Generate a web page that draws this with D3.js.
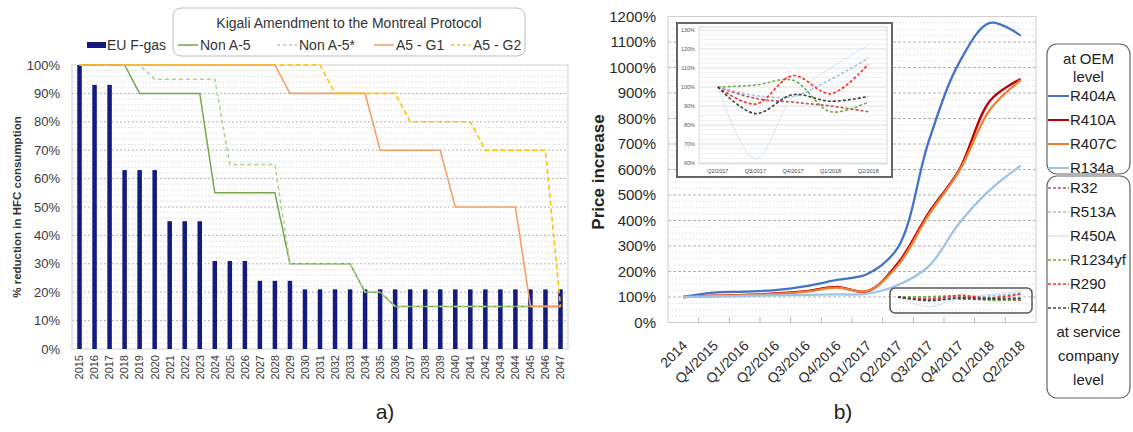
<!DOCTYPE html>
<html>
<head>
<meta charset="utf-8">
<script src="https://cdn.jsdelivr.net/npm/d3@7"></script>
<style>
  html, body { margin: 0; padding: 0; background: #fff; }
  svg { display: block; font-family: "Liberation Sans", Arial, sans-serif; }
</style>
</head>
<body>
<svg id="chart" width="1133" height="432"></svg>
<script>
// ---------- Panel a) HFC phase-down schedules (% of baseline) ----------
const years = ["2015","2016","2017","2018","2019","2020","2021","2022","2023","2024","2025",
  "2026","2027","2028","2029","2030","2031","2032","2033","2034","2035","2036","2037","2038",
  "2039","2040","2041","2042","2043","2044","2045","2046","2047"];
const euFgas    = [100,93,93,63,63,63,45,45,45,31,31,31,24,24,24,21,21,21,21,21,21,21,21,21,21,21,21,21,21,21,21,21,21];
const nonA5     = [100,100,100,100,90,90,90,90,90,55,55,55,55,55,30,30,30,30,30,20,20,15,15,15,15,15,15,15,15,15,15,15,15];
const nonA5Star = [100,100,100,100,100,95,95,95,95,95,65,65,65,65,30,30,30,30,30,20,20,15,15,15,15,15,15,15,15,15,15,15,15];
const a5G1      = [100,100,100,100,100,100,100,100,100,100,100,100,100,100,90,90,90,90,90,90,70,70,70,70,70,50,50,50,50,50,15,15,15];
const a5G2      = [100,100,100,100,100,100,100,100,100,100,100,100,100,100,100,100,100,90,90,90,90,90,80,80,80,80,80,70,70,70,70,70,15];
const reductionTicks = [0,10,20,30,40,50,60,70,80,90,100];

// ---------- Panel b) refrigerant price increase (% of 2014 level) ----------
const quarters = ["2014","Q4/2015","Q1/2016","Q2/2016","Q3/2016","Q4/2016","Q1/2017",
  "Q2/2017","Q3/2017","Q4/2017","Q1/2018","Q2/2018"];
const r404a = [100,117,121,127,143,167,190,295,710,1020,1175,1125];
const r410a = [100,105,108,114,123,140,122,233,430,600,870,955];
const r407c = [100,104,107,112,121,137,124,225,422,595,835,950];
const r134a = [100,102,104,106,108,110,113,147,220,390,520,615];
const priceTicks = [0,100,200,300,400,500,600,700,800,900,1000,1100,1200];

// service-company prices, Q2/2017 = 100%
const serviceQuarters = ["Q2/2017","Q3/2017","Q4/2017","Q1/2018","Q2/2018"];
const r32     = [100,94,92,90,87];
const r513a   = [100,95.5,95,104,115];
const r450a   = [100,62,95,110,122];
const r1234yf = [100,101,103.5,87,92];
const r290    = [100,91,106,96.5,112];
const r744    = [100,86,96,92.5,95];
const insetTicks = [60,70,80,90,100,110,120,130];

const svg = d3.select("#chart");
const TXT = "#333";

// =================== Panel a ===================
const A = { left: 72, right: 568, top: 65, bottom: 349 };
const xA = d3.scaleBand().domain(years).range([A.left, A.right]).paddingInner(0.7).paddingOuter(0.35);
const cA = y => xA(y) + xA.bandwidth() / 2;
const yA = d3.scaleLinear().domain([0, 100]).range([A.bottom, A.top]);

const gA = svg.append("g");
gA.selectAll("line.minor")
  .data(d3.range(2, 100, 2).filter(v => v % 10 !== 0))
  .join("line")
  .attr("x1", A.left).attr("x2", A.right)
  .attr("y1", d => yA(d)).attr("y2", d => yA(d))
  .attr("stroke", "#dcdcdc").attr("stroke-dasharray", "1.5,2");
gA.selectAll("line.major")
  .data(reductionTicks.filter(v => v > 0 && v < 100))
  .join("line")
  .attr("x1", A.left).attr("x2", A.right)
  .attr("y1", d => yA(d)).attr("y2", d => yA(d))
  .attr("stroke", "#b5b5b5").attr("stroke-dasharray", "2,2");
gA.append("rect")
  .attr("x", A.left).attr("y", A.top)
  .attr("width", A.right - A.left).attr("height", A.bottom - A.top)
  .attr("fill", "none").attr("stroke", "#cfcfcf");

// EU F-gas bars
gA.selectAll("rect.bar")
  .data(years)
  .join("rect")
  .attr("x", d => xA(d))
  .attr("y", (d, i) => yA(euFgas[i]))
  .attr("width", xA.bandwidth())
  .attr("height", (d, i) => yA(0) - yA(euFgas[i]))
  .attr("fill", "#141a7e");

// Kigali schedules
const lineA = d3.line().x((d, i) => cA(years[i])).y(d => yA(d));
const kigali = [
  { values: nonA5,     color: "#74a84e", dash: null,  w: 1.5 },
  { values: nonA5Star, color: "#a9d48c", dash: "4,3", w: 1.5 },
  { values: a5G1,      color: "#f4a067", dash: null,  w: 1.6 },
  { values: a5G2,      color: "#ffc000", dash: "5,3", w: 1.6 }
];
kigali.forEach(s => {
  gA.append("path")
    .attr("d", lineA(s.values))
    .attr("fill", "none")
    .attr("stroke", s.color)
    .attr("stroke-width", s.w)
    .attr("stroke-dasharray", s.dash);
});

// axes
const axYA = gA.append("g")
  .attr("transform", `translate(${A.left},0)`)
  .call(d3.axisLeft(yA).tickValues(reductionTicks).tickFormat(d => d + "%").tickSize(0).tickPadding(12));
axYA.select(".domain").remove();
axYA.selectAll("text").attr("font-size", 13).attr("fill", "#3a3a3a")
  .attr("font-family", "Liberation Sans, Arial, sans-serif");

const axXA = gA.append("g")
  .attr("transform", `translate(0,${A.bottom})`)
  .call(d3.axisBottom(xA).tickSize(0));
axXA.select(".domain").remove();
axXA.selectAll("text")
  .attr("font-size", 11).attr("fill", "#3a3a3a")
  .attr("font-family", "Liberation Sans, Arial, sans-serif")
  .attr("text-anchor", "end")
  .attr("transform", "rotate(-90)")
  .attr("x", -6).attr("y", 0).attr("dy", "0.35em");

gA.append("text")
  .attr("transform", `translate(21,${(A.top + A.bottom) / 2}) rotate(-90)`)
  .attr("text-anchor", "middle")
  .attr("font-size", 11.5).attr("font-weight", "bold").attr("fill", TXT)
  .text("% reduction in HFC consumption");

// legend a
const legA = svg.append("g");
legA.append("rect").attr("x", 87).attr("y", 42).attr("width", 19).attr("height", 6).attr("fill", "#141a7e");
legA.append("text").attr("x", 107).attr("y", 45).attr("dy", "0.35em")
  .attr("font-size", 14).attr("fill", TXT).text("EU F-gas");
legA.append("rect").attr("x", 173).attr("y", 8).attr("width", 352).attr("height", 48)
  .attr("rx", 8).attr("fill", "#fff").attr("stroke", "#bdbdbd");
legA.append("text").attr("x", 349).attr("y", 23).attr("dy", "0.35em").attr("text-anchor", "middle")
  .attr("font-size", 14).attr("fill", TXT).text("Kigali Amendment to the Montreal Protocol");
const legItemsA = [
  { label: "Non A-5",  x: 178, s: kigali[0] },
  { label: "Non A-5*", x: 277, s: kigali[1] },
  { label: "A5 - G1",  x: 374, s: kigali[2] },
  { label: "A5 - G2",  x: 451, s: kigali[3] }
];
legItemsA.forEach(it => {
  legA.append("line").attr("x1", it.x).attr("x2", it.x + 20).attr("y1", 45).attr("y2", 45)
    .attr("stroke", it.s.color).attr("stroke-width", 1.6).attr("stroke-dasharray", it.s.dash ? "3,3" : null);
  legA.append("text").attr("x", it.x + 22).attr("y", 45).attr("dy", "0.35em")
    .attr("font-size", 14).attr("fill", TXT).text(it.label);
});

svg.append("text").attr("x", 385).attr("y", 412).attr("dy", "0.35em").attr("text-anchor", "middle")
  .attr("font-size", 21).attr("fill", "#222").text("a)");

// =================== Panel b ===================
const B = { left: 668, right: 1036, top: 16.5, bottom: 322.5 };
const xB = d3.scaleBand().domain(quarters).range([B.left, B.right]);
const cB = q => xB(q) + xB.bandwidth() / 2;
const yB = d3.scaleLinear().domain([0, 1200]).range([B.bottom, B.top]);

const gB = svg.append("g");
gB.selectAll("line.minor")
  .data(d3.range(25, 1200, 25).filter(v => v % 100 !== 0))
  .join("line")
  .attr("x1", B.left).attr("x2", B.right)
  .attr("y1", d => yB(d)).attr("y2", d => yB(d))
  .attr("stroke", "#dedede").attr("stroke-dasharray", "1.5,2");
gB.selectAll("line.major")
  .data(priceTicks.filter(v => v > 0 && v < 1200))
  .join("line")
  .attr("x1", B.left).attr("x2", B.right)
  .attr("y1", d => yB(d)).attr("y2", d => yB(d))
  .attr("stroke", "#b0b0b0").attr("stroke-dasharray", "3,2");
gB.append("rect")
  .attr("x", B.left).attr("y", B.top)
  .attr("width", B.right - B.left).attr("height", B.bottom - B.top)
  .attr("fill", "none").attr("stroke", "#cfcfcf");
gB.selectAll("line.tick")
  .data(quarters.slice(1))
  .join("line")
  .attr("x1", d => xB(d)).attr("x2", d => xB(d))
  .attr("y1", B.bottom - 5).attr("y2", B.bottom)
  .attr("stroke", "#b5b5b5");

const axYB = gB.append("g")
  .attr("transform", `translate(${B.left},0)`)
  .call(d3.axisLeft(yB).tickValues(priceTicks).tickFormat(d => d + "%").tickSize(0).tickPadding(12));
axYB.select(".domain").remove();
axYB.selectAll("text").attr("font-size", 15).attr("fill", "#2a2a2a")
  .attr("font-family", "Liberation Sans, Arial, sans-serif");

const axXB = gB.append("g")
  .attr("transform", `translate(0,${B.bottom})`)
  .call(d3.axisBottom(xB).tickSize(0));
axXB.select(".domain").remove();
axXB.selectAll("text")
  .attr("font-size", 14).attr("fill", "#2a2a2a")
  .attr("font-family", "Liberation Sans, Arial, sans-serif")
  .attr("text-anchor", "end")
  .attr("x", 0).attr("y", 0).attr("dy", 0)
  .attr("transform", "translate(5,24) rotate(-45)");

gB.append("text")
  .attr("transform", `translate(604,172) rotate(-90)`)
  .attr("text-anchor", "middle")
  .attr("font-size", 17).attr("font-weight", "bold").attr("fill", "#222")
  .text("Price increase");

// OEM price curves
const lineB = d3.line().x((d, i) => cB(quarters[i])).y(d => yB(d)).curve(d3.curveCatmullRom.alpha(0.5));
const oem = [
  { name: "R404A", values: r404a, color: "#4472c4" },
  { name: "R410A", values: r410a, color: "#c00000" },
  { name: "R407C", values: r407c, color: "#ed7d31" },
  { name: "R134a", values: r134a, color: "#9dc3e6" }
];
oem.forEach(s => {
  gB.append("path").attr("d", lineB(s.values))
    .attr("fill", "none").attr("stroke", s.color).attr("stroke-width", 2.3);
});

// service-company curves
const service = [
  { name: "R32",     values: r32,     color: "#c0504d", dash: "3,2", w: 1.8 },
  { name: "R513A",   values: r513a,   color: "#9dc3e6", dash: "3,2", w: 1.8 },
  { name: "R450A",   values: r450a,   color: "#d5e5f5", dash: null,  w: 1.3 },
  { name: "R1234yf", values: r1234yf, color: "#70ad47", dash: "3,2", w: 1.8 },
  { name: "R290",    values: r290,    color: "#ff2b2b", dash: "3,2", w: 1.8 },
  { name: "R744",    values: r744,    color: "#404040", dash: "3,2", w: 1.8 }
];
const lineS = d3.line().x((d, i) => cB(serviceQuarters[i])).y(d => yB(d)).curve(d3.curveCatmullRom.alpha(0.5));
gB.append("rect").attr("x", 890).attr("y", 288).attr("width", 142).attr("height", 25)
  .attr("rx", 5).attr("fill", "none").attr("stroke", "#555").attr("stroke-width", 1.5);
service.forEach(s => {
  gB.append("path").attr("d", lineS(s.values))
    .attr("fill", "none").attr("stroke", s.color).attr("stroke-width", s.w)
    .attr("stroke-dasharray", s.dash);
});

// inset: service-company prices on their own scale
const I = { left: 699, right: 887, top: 30, bottom: 163 };
const gI = svg.append("g");
gI.append("rect").attr("x", 677).attr("y", 23).attr("width", 215).attr("height", 154)
  .attr("fill", "#fff").attr("stroke", "#666").attr("stroke-width", 2);
const xI = d3.scalePoint().domain(serviceQuarters).range([I.left, I.right]).padding(0.5);
const yI = d3.scaleLinear().domain([60, 130]).range([I.bottom, I.top]);
gI.selectAll("line.minor")
  .data(d3.range(62.5, 130, 2.5).filter(v => v % 10 !== 0))
  .join("line")
  .attr("x1", I.left).attr("x2", I.right)
  .attr("y1", d => yI(d)).attr("y2", d => yI(d))
  .attr("stroke", "#f0f0f0");
gI.selectAll("line.major")
  .data(insetTicks)
  .join("line")
  .attr("x1", I.left).attr("x2", I.right)
  .attr("y1", d => yI(d)).attr("y2", d => yI(d))
  .attr("stroke", "#dedede");
gI.append("rect").attr("x", I.left).attr("y", I.top - 3)
  .attr("width", I.right - I.left).attr("height", I.bottom - I.top + 4)
  .attr("fill", "none").attr("stroke", "#d8d8d8");
gI.selectAll("text.ylab")
  .data(insetTicks)
  .join("text")
  .attr("x", 695).attr("y", d => yI(d)).attr("dy", "0.35em").attr("text-anchor", "end")
  .attr("font-size", 5.5).attr("fill", "#555").text(d => d + "%");
gI.selectAll("text.xlab")
  .data(serviceQuarters)
  .join("text")
  .attr("x", d => xI(d)).attr("y", 171).attr("dy", "0.35em").attr("text-anchor", "middle")
  .attr("font-size", 5.5).attr("fill", "#444").text(d => d);
const lineI = d3.line().x((d, i) => xI(serviceQuarters[i])).y(d => yI(d)).curve(d3.curveCatmullRom.alpha(0.5));
service.forEach(s => {
  gI.append("path").attr("d", lineI(s.values))
    .attr("fill", "none").attr("stroke", s.color)
    .attr("stroke-width", s.dash ? 1.6 : 1)
    .attr("stroke-dasharray", s.dash);
});

// legend b
const legB = svg.append("g").attr("font-size", 15).attr("fill", "#222");
legB.append("rect").attr("x", 1047).attr("y", 44).attr("width", 83).attr("height", 130)
  .attr("rx", 10).attr("fill", "#fff").attr("stroke", "#666").attr("stroke-width", 1.2);
legB.append("rect").attr("x", 1047).attr("y", 176).attr("width", 83).attr("height", 222)
  .attr("rx", 10).attr("fill", "#fff").attr("stroke", "#666").attr("stroke-width", 1.2);
const centerText = (txt, y) => legB.append("text").attr("x", 1088.5).attr("y", y)
  .attr("dy", "0.35em").attr("text-anchor", "middle").text(txt);
centerText("at OEM", 59);
centerText("level", 77);
oem.forEach((s, i) => {
  const y = 96 + i * 24;
  legB.append("line").attr("x1", 1048).attr("x2", 1069).attr("y1", y).attr("y2", y)
    .attr("stroke", s.color).attr("stroke-width", 2);
  legB.append("text").attr("x", 1070).attr("y", y).attr("dy", "0.35em").text(s.name);
});
service.forEach((s, i) => {
  const y = 188 + i * 24;
  legB.append("line").attr("x1", 1048).attr("x2", 1069).attr("y1", y).attr("y2", y)
    .attr("stroke", s.color).attr("stroke-width", 1.6).attr("stroke-dasharray", s.dash);
  legB.append("text").attr("x", 1070).attr("y", y).attr("dy", "0.35em").text(s.name);
});
centerText("at service", 332);
centerText("company", 356);
centerText("level", 380);

svg.append("text").attr("x", 843).attr("y", 412).attr("dy", "0.35em").attr("text-anchor", "middle")
  .attr("font-size", 21).attr("fill", "#222").text("b)");
</script>
</body>
</html>
